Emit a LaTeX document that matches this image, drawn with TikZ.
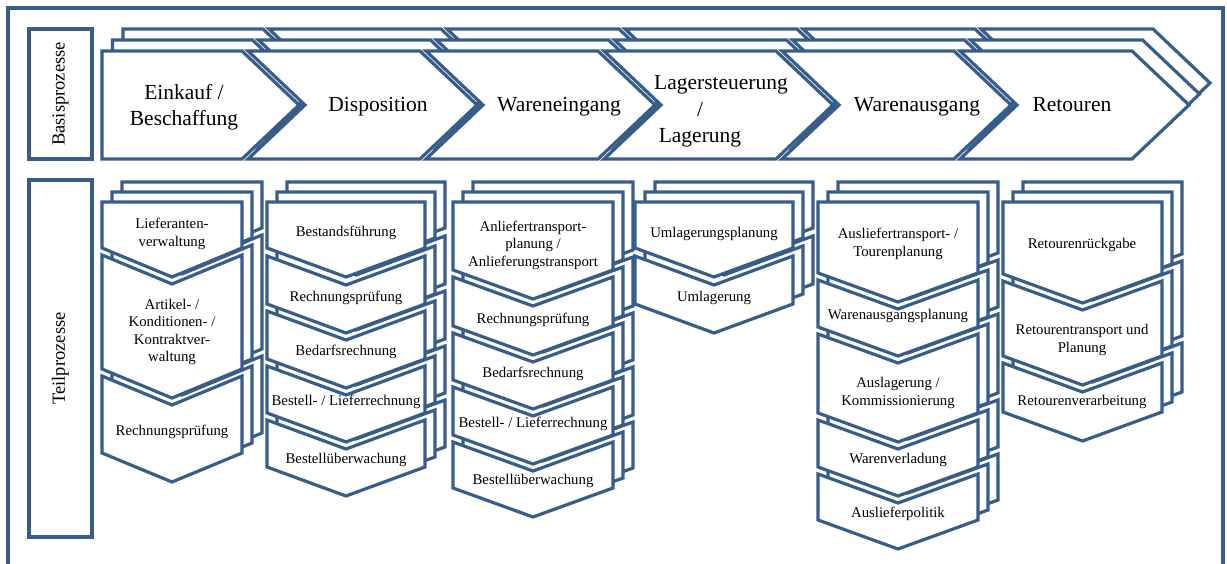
\documentclass[tikz,border=0pt]{standalone}
\usepackage{fontspec}
\setmainfont{Liberation Serif}
\definecolor{chevblue}{RGB}{56,93,138}

% One column of stacked downward chevrons, three layers deep.
% #1 = left x, #2 = right x, #3 = list of top/side-bottom pairs
\newcommand\teilspalte[3]{%
  \foreach \ly in {2,1,0}{%
    \begin{scope}[shift={(10*\ly,-10*\ly)}]
      \foreach \ty/\sy [count=\idx] in {#3}{%
        \ifnum\idx=1
          \draw[outline] (#1,\ty) -- (#2,\ty) -- (#2,\sy)
            -- ({(#1+#2)/2},\sy+29) -- (#1,\sy) -- cycle;
        \else
          \draw[outline] (#1,\ty) -- ({(#1+#2)/2},\ty+29) -- (#2,\ty) -- (#2,\sy)
            -- ({(#1+#2)/2},\sy+29) -- (#1,\sy) -- cycle;
        \fi
      }%
    \end{scope}
  }%
}

\begin{document}
\begin{tikzpicture}[x=1pt,y=-1pt,
  outline/.style={draw=chevblue, line width=3.2pt, fill=white, line join=miter},
  bigtext/.style={font=\fontsize{21.5}{25.5}\selectfont, align=center, inner sep=0pt},
  lagertext/.style={font=\fontsize{21.5}{26.5}\selectfont, align=center, inner sep=0pt},
  smalltext/.style={font=\fontsize{14.8}{17.5}\selectfont, align=center, inner sep=0pt},
  sidebox/.style={draw=chevblue, line width=3.2pt, fill=white, rotate=90,
    font=\fontsize{18.5}{22}\selectfont, inner sep=0pt}]

\clip (0,0) rectangle (1227,564);
\fill[white] (0,0) rectangle (1227,564);

% outer frame (its lower edge lies below the page)
\draw[outline] (8,8) rectangle (1223,600);

% row labels
\node[sidebox, minimum width=130pt, minimum height=63pt] (basis) at (60.5,94) {Basisprozesse};
\node[sidebox, minimum width=357pt, minimum height=63pt] (teil) at (60.5,358.5) {Teilprozesse};

% top row: process chain of right-pointing chevrons, three layers deep
\foreach \ly in {2,1,0}{
  \begin{scope}[shift={(10.5*\ly,-11*\ly)}]
    \draw[outline] (102,51) -- (242,51) -- (299,105) -- (242,159) -- (102,159) -- cycle;
    \foreach \i in {1,...,5}{
      \pgfmathsetmacro\xa{70+178*\i}
      \pgfmathsetmacro\xc{242+178*\i}
      \draw[outline] (\xa,51) -- (\xc,51) -- (\xc+57,105) -- (\xc,159)
        -- (\xa,159) -- (\xa+57,105) -- cycle;
    }
  \end{scope}
}

\node[bigtext] (einkauf) at (184,107.5) {Einkauf /\\Beschaffung};
\node[bigtext] (dispo) at (378,107) {Disposition};
\node[bigtext] (weing) at (559,107) {Wareneingang};
\node[lagertext] (lager) at (700,111.5)
  {\hspace*{42pt}Lagersteuerung\\/\hspace*{14pt}\\Lagerung};
\node[bigtext] (waus) at (917,107) {Warenausgang};
\node[bigtext] (retour) at (1072,105) {Retouren};

% sub-process columns
\teilspalte{102}{242}{202/248, 255/369, 376/453}
\teilspalte{267}{425}{202/248, 256/304, 311/359, 366/413, 420/467}
\teilspalte{453}{613}{202/270, 277/326, 333/380, 387/435, 442/488}
\teilspalte{635}{793}{202/248, 256/304}
\teilspalte{818}{978}{202/273, 280/327, 334/413, 420/467, 474/520}
\teilspalte{1003}{1162}{202/274, 281/356, 363/412}

% column 1
\node[smalltext] (s11) at (172,234) {Lieferanten-\\verwaltung};
\node[smalltext] (s12) at (172,332) {Artikel- /\\Konditionen- /\\Kontraktver-\\waltung};
\node[smalltext] (s13) at (172,432) {Rechnungsprüfung};
% column 2
\node[smalltext] (s21) at (346,233) {Bestandsführung};
\node[smalltext] (s22) at (346,298) {Rechnungsprüfung};
\node[smalltext] (s23) at (346,352) {Bedarfsrechnung};
\node[smalltext] (s24) at (346,402) {Bestell- / Lieferrechnung};
\node[smalltext] (s25) at (346,460) {Bestellüberwachung};
% column 3
\node[smalltext] (s31) at (533,245) {Anliefertransport-\\planung /\\Anlieferungstransport};
\node[smalltext] (s32) at (533,320) {Rechnungsprüfung};
\node[smalltext] (s33) at (533,374) {Bedarfsrechnung};
\node[smalltext] (s34) at (533,424) {Bestell- / Lieferrechnung};
\node[smalltext] (s35) at (533,481) {Bestellüberwachung};
% column 4
\node[smalltext] (s41) at (714,234) {Umlagerungsplanung};
\node[smalltext] (s42) at (714,298) {Umlagerung};
% column 5
\node[smalltext] (s51) at (898,244) {Ausliefertransport- /\\Tourenplanung};
\node[smalltext] (s52) at (898,316) {Warenausgangsplanung};
\node[smalltext] (s53) at (898,393) {Auslagerung /\\Kommissionierung};
\node[smalltext] (s54) at (898,460) {Warenverladung};
\node[smalltext] (s55) at (898,514) {Auslieferpolitik};
% column 6
\node[smalltext] (s61) at (1082,245) {Retourenrückgabe};
\node[smalltext] (s62) at (1082,340) {Retourentransport und\\Planung};
\node[smalltext] (s63) at (1082,402) {Retourenverarbeitung};
\end{tikzpicture}
\end{document}
